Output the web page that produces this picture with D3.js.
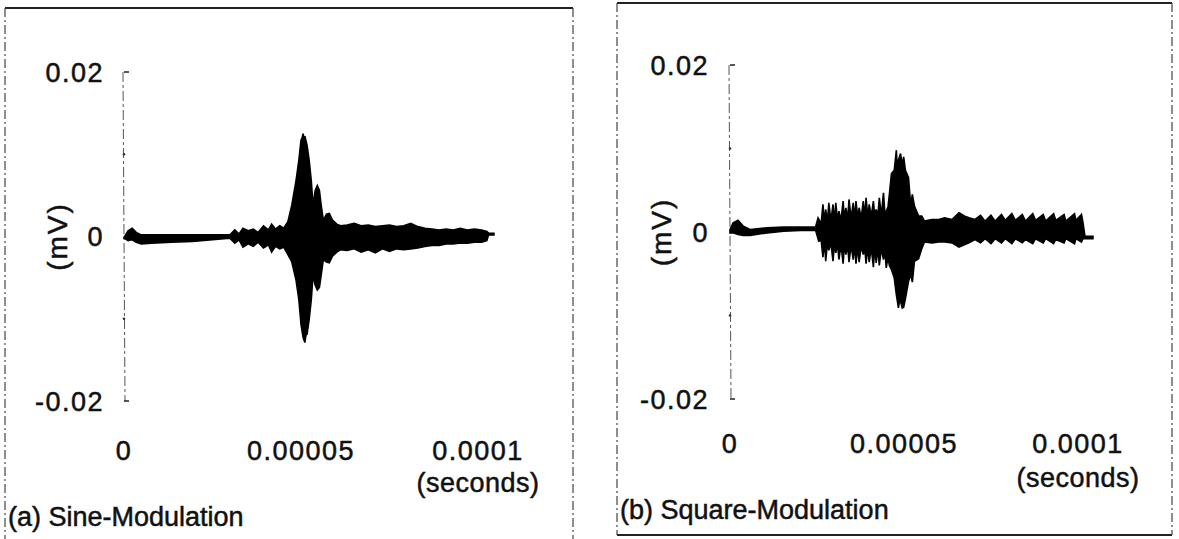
<!DOCTYPE html>
<html lang="en">
<head>
<meta charset="UTF-8">
<title>Sine / Square Modulation</title>
<style>
    body { margin: 0; background: #fff; }
    svg { display: block; }
    text { font-family: "Liberation Sans", Arial, sans-serif; fill: #111; stroke: #111; stroke-width: 0.5px; }
</style>
</head>
<body>
<div id="chart"></div>
<script src="https://d3js.org/d3.v7.min.js"></script>
<script>
// axis ticks
const yTicks = [-0.02, 0, 0.02];
const yMinorTicks = [-0.01, 0.01];
const xTicks = [0, 0.00005, 0.0001];
const xTickLabels = ['0', '0.00005', '0.0001'];
const panelTitles = ['(a)  Sine-Modulation', '(b)  Square-Modulation'];

// signal envelopes, time in microseconds, value in mV
const sineTopT = [0, 1.15, 2.3, 3.45, 4.9, 7.8, 13.5, 19.3, 25, 29.9, 31.3, 32.5, 33.6, 35.1, 36.5, 37.9, 39.4, 40.8, 41.7, 42.8,
    44, 45.1, 46.3, 47.4, 48.6, 49.4, 50, 50.3, 50.6, 50.9, 51.1, 51.7, 52.3, 52.9, 53.4, 54, 54.6, 55.2, 55.7, 56.3,
    57.2, 58, 58.9, 60.1, 61.2, 63, 65, 67, 69, 71, 73, 75, 77, 79, 81, 83, 85, 87, 89, 91, 93, 95, 97, 99, 101, 102.5, 103, 104.5];
const sineTopV = [-0.0001, 0.0007, 0.0010, 0.0005, 0.0002, 0.0002, 0.0002, 0.0002, 0.0002, 0.0002, 0.0008, 0.0003, 0.0010, 0.0007, 0.0009, 0.0005, 0.0013, 0.0008, 0.0015, 0.0009,
    0.0013, 0.0010, 0.0018, 0.0038, 0.0068, 0.0093, 0.0117, 0.0120, 0.0125, 0.0118, 0.0122, 0.0111, 0.0093, 0.0068, 0.0038, 0.0056, 0.0062, 0.0056, 0.0038, 0.0020,
    0.0027, 0.0028, 0.0020, 0.0015, 0.0013, 0.0014, 0.0016, 0.0013, 0.0014, 0.0012, 0.0013, 0.0014, 0.0012, 0.0013, 0.0016, 0.0012, 0.0010, 0.0009, 0.0008, 0.0009, 0.0008, 0.0010, 0.0008, 0.0009, 0.0008, 0.0006, 0.0004, 0.0004];
const sineBotT = [0, 1.15, 2.3, 3.45, 4.9, 7.8, 13.5, 19.3, 25, 29.9, 31.3, 32.5, 33.6, 35.1, 36.5, 37.9, 39.4, 40.8, 41.7, 42.8,
    44, 45.1, 46.3, 47.4, 48.6, 49.4, 50, 50.6, 51.1, 51.4, 51.7, 52.3, 52.9, 53.4, 54, 54.6, 55.2, 55.7, 56.3,
    57.2, 58, 58.9, 60.1, 61.2, 63, 65, 67, 69, 71, 73, 75, 77, 79, 81, 83, 85, 87, 89, 91, 93, 95, 97, 99, 101, 102.5, 103, 104.5];
const sineBotV = [-0.0002, -0.0005, -0.0004, -0.0007, -0.0009, -0.0008, -0.0007, -0.0006, -0.0004, -0.0002, -0.0008, -0.0004, -0.0013, -0.0009, -0.0012, -0.0007, -0.0014, -0.0010, -0.0019, -0.0012,
    -0.0015, -0.0013, -0.0022, -0.0031, -0.0053, -0.0077, -0.0107, -0.0123, -0.0129, -0.0120, -0.0119, -0.0101, -0.0077, -0.0047, -0.0059, -0.0065, -0.0062, -0.0047, -0.0028,
    -0.0031, -0.0032, -0.0024, -0.0019, -0.0016, -0.0017, -0.0015, -0.0019, -0.0016, -0.0020, -0.0015, -0.0018, -0.0015, -0.0016, -0.0015, -0.0014, -0.0012, -0.0011, -0.0011, -0.0009, -0.0009, -0.0008, -0.0008, -0.0007, -0.0007, -0.0005, 0.0002, 0.0002];

const squareTopT = [0, 0.9, 2.3, 3.8, 5.8, 10.7, 15.4, 20.3, 24.6, 25.3, 26.2, 26.7, 27.2, 27.5, 28, 28.4, 29, 29.6, 30, 30.4,
    30.9, 31.3, 31.9, 32.5, 32.9, 33.3, 33.8, 34.2, 34.8, 35.4, 35.8, 36.2, 36.7, 37.1, 37.7, 38.3, 38.7, 39.1, 39.6, 40,
    40.6, 41.2, 41.6, 42, 42.5, 42.9, 43.5, 44.1, 44.5, 44.9, 45.4, 45.8, 46.4, 47.2, 47.8, 48.1, 48.4, 49, 49.5, 49.9,
    50.4, 51.3, 51.9, 52.4, 53, 54.2, 55.1, 55.9, 58, 60, 61.7, 63.8, 65.8, 67.5, 68.7, 70.4, 72, 73.3, 75, 76.2,
    78, 79.1, 81, 82, 84, 84.9, 87, 87.8, 90, 90.7, 93, 93.6, 96, 96.5, 99, 99.4, 101, 101.4, 102, 104.3];
const squareTopV = [0.0003, 0.0011, 0.0014, 0.0007, 0.0003, 0.0005, 0.0006, 0.0006, 0.0006, 0.0017, 0.0010, 0.0033, 0.0012, 0.0027, 0.0012, 0.0035, 0.0013, 0.0033, 0.0013, 0.0035,
    0.0014, 0.0025, 0.0014, 0.0037, 0.0015, 0.0029, 0.0015, 0.0039, 0.0016, 0.0035, 0.0016, 0.0037, 0.0017, 0.0029, 0.0017, 0.0037, 0.0018, 0.0041, 0.0018, 0.0033,
    0.0019, 0.0037, 0.0019, 0.0027, 0.0020, 0.0041, 0.0020, 0.0047, 0.0022, 0.0025, 0.0030, 0.0045, 0.0070, 0.0074, 0.0098, 0.0075, 0.0086, 0.0094, 0.0080, 0.0090,
    0.0074, 0.0065, 0.0033, 0.0045, 0.0031, 0.0019, 0.0019, 0.0013, 0.0015, 0.0015, 0.0017, 0.0015, 0.0023, 0.0019, 0.0017, 0.0015, 0.0020, 0.0013, 0.0020, 0.0013,
    0.0021, 0.0014, 0.0022, 0.0014, 0.0021, 0.0013, 0.0022, 0.0014, 0.0021, 0.0013, 0.0022, 0.0014, 0.0021, 0.0013, 0.0022, 0.0014, 0.0021, 0.0012, -0.0005, -0.0005];
const squareBotT = [0, 0.9, 2.3, 3.8, 5.8, 10.7, 15.4, 20.3, 24.6, 25.5, 26.2, 26.7, 27.2, 27.5, 28, 28.4, 29, 29.6, 30, 30.4,
    30.9, 31.3, 31.9, 32.5, 32.9, 33.3, 33.8, 34.2, 34.8, 35.4, 35.8, 36.2, 36.7, 37.1, 37.7, 38.3, 38.7, 39.1, 39.6, 40,
    40.6, 41.2, 41.6, 42, 42.5, 42.9, 43.5, 44.1, 44.5, 44.9, 45.4, 45.8, 46.4, 47.2, 47.8, 48.4, 48.8, 49, 49.5, 49.9,
    50.4, 51.3, 51.9, 52.4, 53, 54.2, 55.1, 55.9, 58, 60, 61.7, 63.8, 65.8, 67.5, 68.7, 70.4, 72, 73.3, 75, 76.2,
    78, 79.1, 81, 82, 84, 84.9, 87, 87.8, 90, 90.7, 93, 93.6, 96, 96.5, 99, 99.4, 101, 101.4, 102, 104.3];
const squareBotV = [-0.0001, -0.0001, -0.0003, -0.0004, -0.0004, -0.0001, 0.0001, 0.0002, 0.0002, -0.0011, -0.0010, -0.0030, -0.0012, -0.0035, -0.0013, -0.0022, -0.0013, -0.0035, -0.0014, -0.0025,
    -0.0014, -0.0033, -0.0015, -0.0038, -0.0015, -0.0027, -0.0016, -0.0036, -0.0016, -0.0033, -0.0016, -0.0038, -0.0017, -0.0036, -0.0017, -0.0027, -0.0018, -0.0038, -0.0018, -0.0036,
    -0.0019, -0.0042, -0.0019, -0.0037, -0.0020, -0.0040, -0.0020, -0.0033, -0.0022, -0.0043, -0.0030, -0.0040, -0.0045, -0.0055, -0.0075, -0.0091, -0.0080, -0.0083, -0.0091, -0.0090,
    -0.0080, -0.0059, -0.0051, -0.0060, -0.0035, -0.0032, -0.0020, -0.0012, -0.0013, -0.0012, -0.0012, -0.0013, -0.0018, -0.0015, -0.0013, -0.0009, -0.0013, -0.0008, -0.0014, -0.0008,
    -0.0013, -0.0008, -0.0014, -0.0008, -0.0013, -0.0009, -0.0014, -0.0008, -0.0013, -0.0008, -0.0014, -0.0009, -0.0013, -0.0008, -0.0014, -0.0008, -0.0012, -0.0008, -0.0008, -0.0008];

const W = 1179, H = 539;
const svg = d3.select('#chart').append('svg')
    .attr('width', W)
    .attr('height', H);

const panels = [
    { topT: sineTopT, topV: sineTopV, botT: sineBotT, botV: sineBotV, title: panelTitles[0],
      box: [5, 8, 573, 560], solidBottom: false,
      xr: [124, 478], yr: [72, 401], yLabelX: 104, mvX: 57, xLabY: 460, secY: 492, titleX: 8, titleY: 526 },
    { topT: squareTopT, topV: squareTopV, botT: squareBotT, botV: squareBotV, title: panelTitles[1],
      box: [617, 3, 1172, 535], solidBottom: true,
      xr: [730, 1078], yr: [65, 399], yLabelX: 709, mvX: 661, xLabY: 453, secY: 487, titleX: 620, titleY: 519 }
];

panels.forEach(p => {
    const g = svg.append('g');

    // frame: solid top, ragged dashed sides
    const [x0, y0, x1, y1] = p.box;
    g.append('line').attr('x1', x0).attr('x2', x1).attr('y1', y0).attr('y2', y0)
        .attr('stroke', '#222').attr('stroke-width', 2);
    if (p.solidBottom) {
        g.append('line').attr('x1', x0).attr('x2', x1).attr('y1', y1).attr('y2', y1)
            .attr('stroke', '#222').attr('stroke-width', 2);
    }
    [x0, x1].forEach(xx => {
        g.append('line').attr('x1', xx).attr('x2', xx).attr('y1', y0).attr('y2', y1)
            .attr('stroke', '#444').attr('stroke-width', 1.2).attr('stroke-dasharray', '9,3,2,3');
    });

    const x = d3.scaleLinear().domain([0, 0.0001]).range(p.xr);
    const y = d3.scaleLinear().domain([0.02, -0.02]).range(p.yr);

    // y axis: faint broken line with short ticks on the right side
    g.append('line')
        .attr('x1', p.xr[0] - 1).attr('x2', p.xr[0] + 1)
        .attr('y1', y(0.02)).attr('y2', y(-0.02))
        .attr('stroke', '#555').attr('stroke-width', 1).attr('stroke-dasharray', '10,3,3,3');
    g.selectAll('.ytick').data(yTicks).enter().append('line')
        .attr('x1', p.xr[0]).attr('x2', p.xr[0] + 5)
        .attr('y1', d => y(d)).attr('y2', d => y(d))
        .attr('stroke', '#222').attr('stroke-width', 1.5);
    g.selectAll('.ymin').data(yMinorTicks).enter().append('circle')
        .attr('cx', p.xr[0]).attr('cy', d => y(d)).attr('r', 1.3).attr('fill', '#333');

    g.selectAll('.ylab').data(yTicks).enter().append('text')
        .attr('x', p.yLabelX).attr('y', d => y(d))
        .attr('dy', '0.36em')
        .attr('text-anchor', 'end')
        .style('font-size', '27px')
        .style('letter-spacing', '1.5px')
        .text(d => d === 0 ? '0' : d3.format('.2f')(d).replace('−', '-'));

    g.selectAll('.xlab').data(xTicks).enter().append('text')
        .attr('x', d => x(d)).attr('y', p.xLabY)
        .attr('text-anchor', 'middle')
        .style('font-size', '27px')
        .style('letter-spacing', '1.5px')
        .text((d, i) => xTickLabels[i]);

    g.append('text')
        .attr('x', x(0.0001)).attr('y', p.secY)
        .attr('text-anchor', 'middle')
        .style('font-size', '27px')
        .style('letter-spacing', '0.5px')
        .text('(seconds)');

    g.append('text')
        .attr('transform', 'translate(' + p.mvX + ',' + y(0) + ') rotate(-90)')
        .attr('dy', '0.36em')
        .attr('text-anchor', 'middle')
        .style('font-size', '28px')
        .style('letter-spacing', '2px')
        .text('(mV)');

    g.append('text')
        .attr('x', p.titleX).attr('y', p.titleY)
        .style('font-size', '27px')
        .text(p.title);

    // waveform envelope: top edge forward, bottom edge back
    const top = p.topT.map((t, i) => [t * 1e-6, p.topV[i]]);
    const bot = p.botT.map((t, i) => [t * 1e-6, p.botV[i]]).reverse();
    const outline = d3.line().x(d => x(d[0])).y(d => y(d[1]));
    g.append('path')
        .attr('d', outline(top.concat(bot)) + 'Z')
        .attr('fill', '#000')
        .attr('stroke', '#000')
        .attr('stroke-width', 1.6)
        .attr('stroke-linejoin', 'miter');
});
</script>
</body>
</html>
